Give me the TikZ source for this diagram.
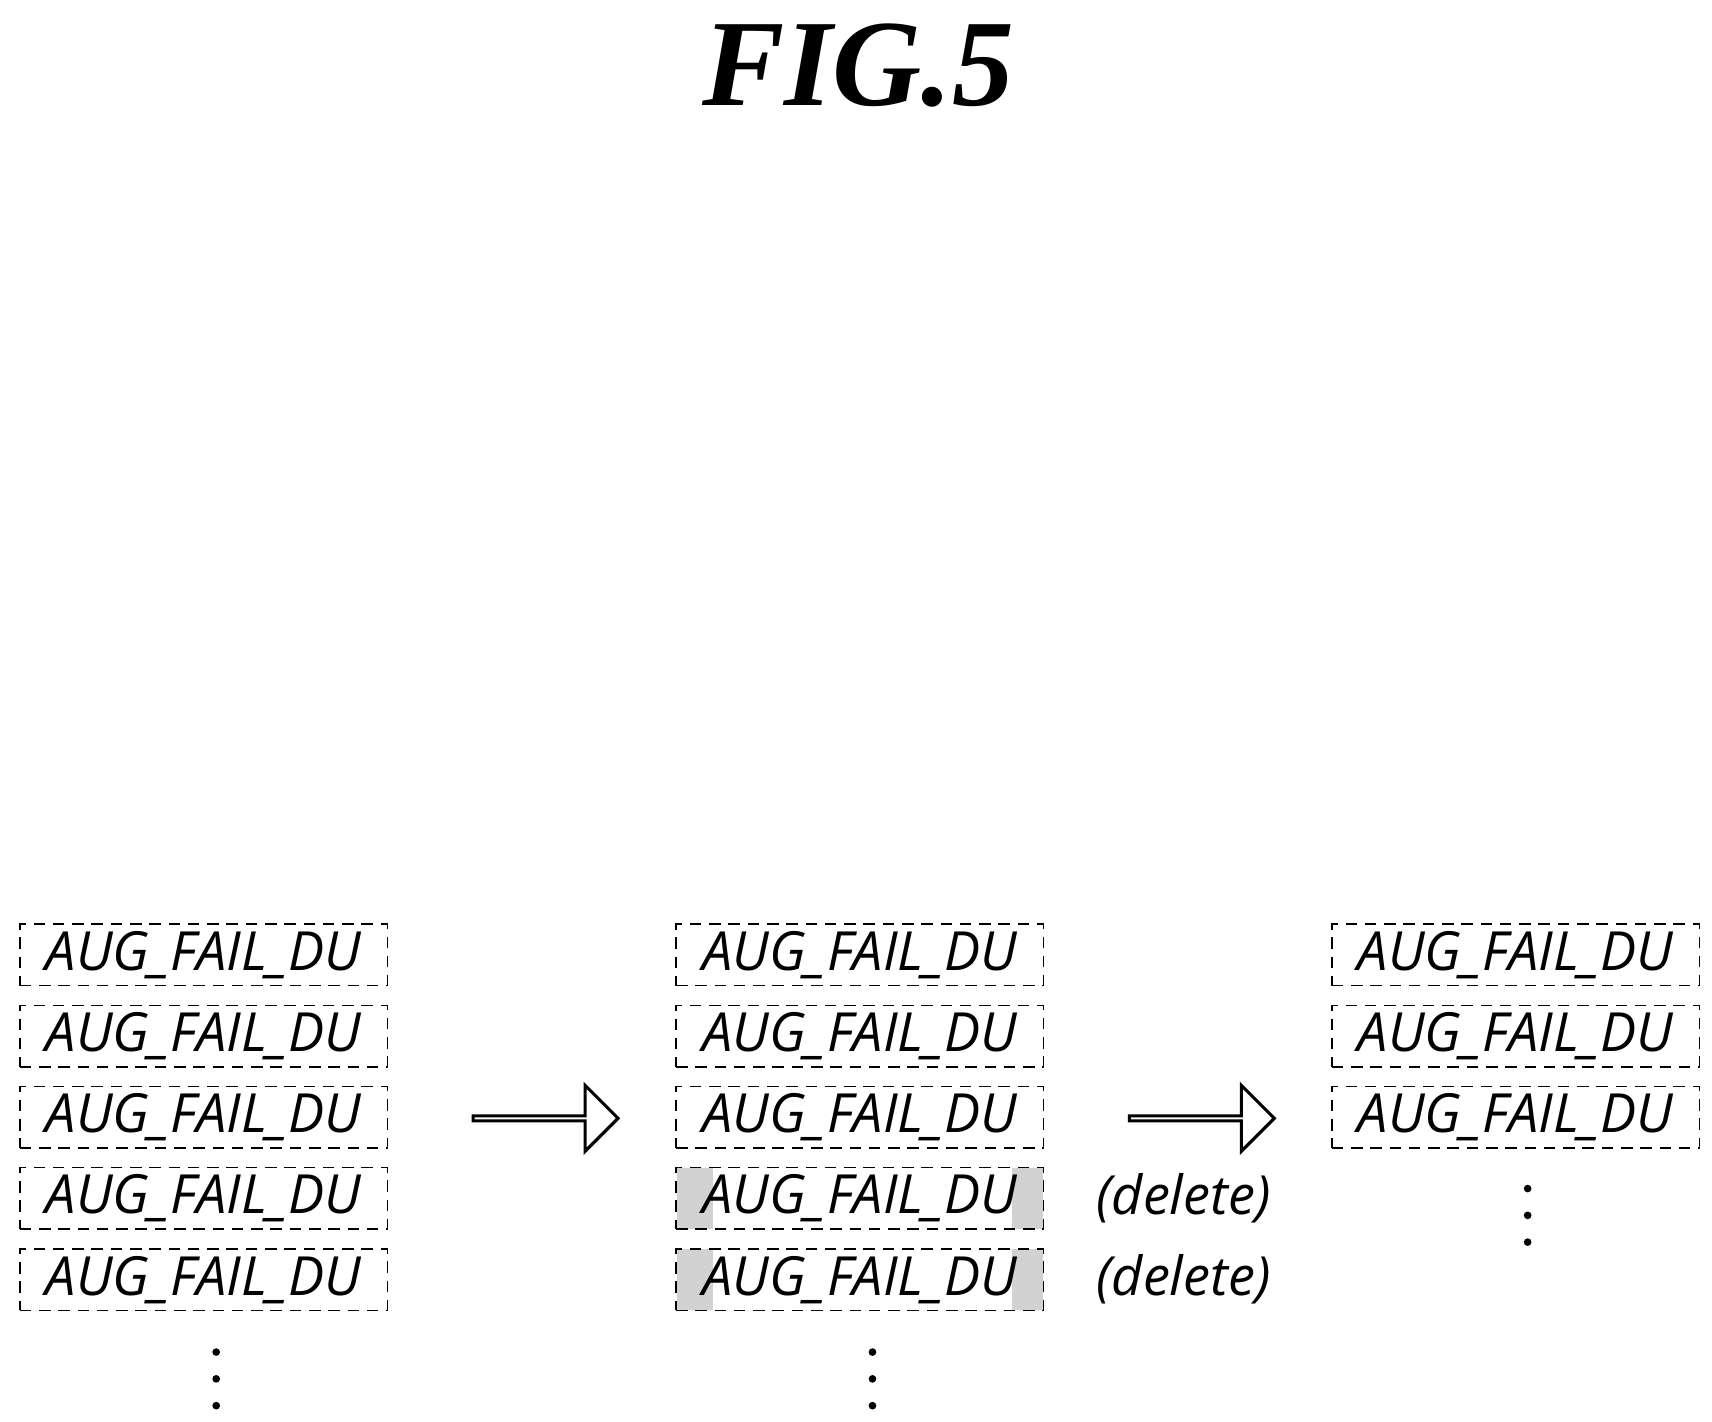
\documentclass[tikz,border=0pt]{standalone}
\usepackage{fontspec}
\setmainfont{Liberation Serif}
\setsansfont{Open Sans}
\usetikzlibrary{positioning}
\usetikzlibrary{shapes.arrows}
\tikzset{du box/.style={
    draw=black, densely dashed, thin,
    minimum width=3.35cm, minimum height=0.56cm,
    inner sep=0pt,
    font=\sffamily\itshape\fontsize{14}{14}\selectfont
}}
\tikzset{step arrow/.style={
    single arrow, draw=black, thick, fill=white,
    minimum width=0.6cm, single arrow head extend=0.17cm,
    single arrow head indent=0pt,
    minimum height=1.32cm, inner sep=0pt
}}
\tikzset{del note/.style={
    font=\sffamily\itshape\fontsize{14}{14}\selectfont
}}
\tikzset{vdot/.style={
    circle, fill=black, inner sep=0pt, minimum size=0.07cm
}}
\begin{document}
\begin{tikzpicture}
  \useasboundingbox (0,0) rectangle (15.6,-12.95);

  \node (title) at (7.82,-0.6) {\fontsize{32}{32}\selectfont\bfseries\itshape FIG.5};

  % columns of boxes
  \foreach \i/\y in {1/8.70,2/9.44,3/10.18,4/10.92,5/11.66} {
    \node (a\i) [du box] at (1.855,-\y) {AUG\_FAIL\_DU};
  }
  \foreach \i/\y in {4/10.92,5/11.66} {
    \fill [gray!35] (6.17,-\y+0.28) rectangle (6.50,-\y-0.28);
    \fill [gray!35] (9.22,-\y+0.28) rectangle (9.50,-\y-0.28);
  }
  \foreach \i/\y in {1/8.70,2/9.44,3/10.18,4/10.92,5/11.66} {
    \node (b\i) [du box] at (7.835,-\y) {AUG\_FAIL\_DU};
  }
  \foreach \i/\y in {1/8.70,2/9.44,3/10.18} {
    \node (c\i) [du box] at (13.81,-\y) {AUG\_FAIL\_DU};
  }

  \node (d4) [del note, right=0.35cm of b4] {(delete)};
  \node (d5) [del note, right=0.35cm of b5] {(delete)};

  % arrows
  \node (s1) [step arrow] at (4.96,-10.19) {};
  \node (s2) [step arrow] at (10.94,-10.19) {};

  % dots
  \foreach \k/\x/\y in {a/1.97/12.32,b/7.95/12.32,c/13.92/10.83} {
    \node (\k dot1) [vdot] at (\x,-\y) {};
    \node (\k dot2) [vdot, below=0.16cm of \k dot1] {};
    \node (\k dot3) [vdot, below=0.16cm of \k dot2] {};
  }
\end{tikzpicture}
\end{document}
